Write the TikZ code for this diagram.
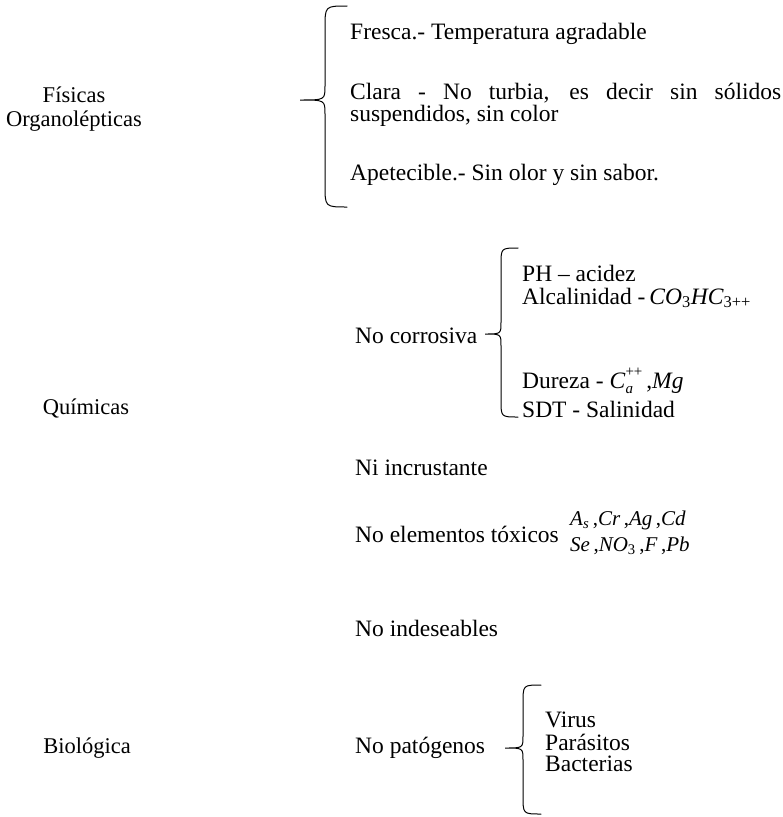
\documentclass[tikz,border=0pt]{standalone}
\usepackage{fontspec}
\setmainfont{Liberation Serif}
\begin{document}
\begin{tikzpicture}[x=1pt,y=-1pt,
  txt/.style={inner sep=0pt,anchor=west,font=\fontsize{23.5}{22}\selectfont},
  frm/.style={inner sep=0pt,anchor=west,font=\fontsize{21}{22}\selectfont},
  ctr/.style={inner sep=0pt,align=center,font=\fontsize{22.5}{24}\selectfont},
  brc/.style={line width=1pt,line cap=round}]
\useasboundingbox (0,0) rectangle (783,817);
\newcommand{\mybrace}[7]{% x, ytop, ytip, ybot, xtip, hook, tipr
  \draw[brc] (#1+#6,#2) .. controls (#1,#2) .. (#1,#2+#6) -- (#1,#3-#7)
     .. controls (#1,#3) .. (#5,#3) .. controls (#1,#3) .. (#1,#3+#7)
     -- (#1,#4-#6) .. controls (#1,#4) .. (#1+#6,#4);}
% Fisicas
\node[ctr] (fis) at (74,109) {Físicas\\Organolépticas};
\mybrace{325}{6}{100}{207}{300}{22}{14}
\node[txt] (fresca) at (350,34) {Fresca.- Temperatura agradable};
\node[txt] (clara) at (350,93) {\makebox[431pt][s]{Clara - No turbia, es decir sin sólidos}};
\node[txt] (susp) at (350,116) {suspendidos, sin color};
\node[txt] (apet) at (350,175) {Apetecible.- Sin olor y sin sabor.};
% Quimicas
\node[ctr] (quim) at (86,408) {Químicas};
\node[txt] (corr) at (355,336) {No corrosiva};
\mybrace{501}{248}{334}{417}{485}{17}{12}
\node[txt] (ph) at (522,273) {PH – acidez};
\node[txt] (alc) at (522,298) {Alcalinidad -\,\textit{CO}\textsubscript{3}\textit{HC}\textsubscript{3++}};
\node[txt] (dur) at (522,381) {Dureza - \textit{C}\rlap{\raisebox{-0.25em}{\fontsize{15}{15}\selectfont\itshape a}}\raisebox{0.5em}{\fontsize{15}{15}\selectfont ++}\,,\textit{Mg}};
\node[txt] (sdt) at (522,409) {SDT - Salinidad};
\node[txt] (incr) at (355,468) {Ni incrustante};
\node[txt] (tox) at (355,534) {No elementos tóxicos};
\node[frm] (tox1) at (570,520) {\textit{A}\textsubscript{\textit{s}}\,,\textit{Cr}\,,\textit{Ag}\,,\textit{Cd}};
\node[frm] (tox2) at (570,546) {\textit{Se}\,,\textit{NO}\textsubscript{3}\,,\textit{F}\,,\textit{Pb}};
\node[txt] (indes) at (355,628) {No indeseables};
% Biologica
\node[ctr] (bio) at (87,748) {Biológica};
\node[txt] (pato) at (355,748) {No patógenos};
\mybrace{523}{685}{748}{814}{505}{18}{12}
\node[txt] (vir) at (545,720) {Virus};
\node[txt] (par) at (545,742) {Parásitos};
\node[txt] (bac) at (545,764) {Bacterias};
\end{tikzpicture}
\end{document}
